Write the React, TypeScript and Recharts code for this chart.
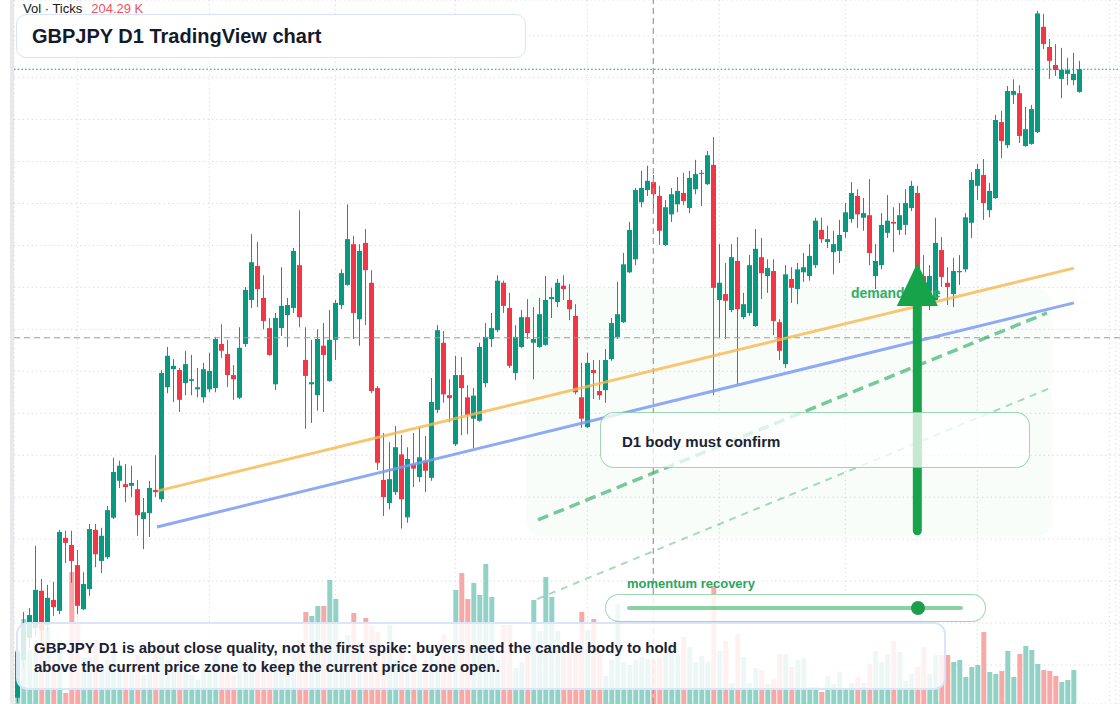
import React from 'react';
import {
  ComposedChart, Bar, Cell, XAxis, YAxis, CartesianGrid,
  ReferenceLine, ReferenceArea, ReferenceDot,
} from 'recharts';

const W = 1120;
const H = 704;

const UP = '#089981';
const DOWN = '#f23645';
const UP_VOL = '#92d2c6';
const DOWN_VOL = '#f7a9a8';
const GREEN = '#16a34a';
const GRID = '#d4d7dd';

// GBPJPY daily candles, oldest first
const opens = [
  179.22, 180.12, 180.65, 180.88, 181.77, 180.95, 181.55, 181.29, 183.03, 182.86,
  182.38, 181.33, 181.81, 183.22, 182.48, 182.57, 183.51, 184.39, 184.31, 184.27,
  184.19, 183.48, 183.62, 184.17, 183.95, 186.62, 187.05, 187.03, 186.72, 186.77,
  186.57, 186.38, 186.57, 186.60, 187.65, 187.41, 186.91, 186.37, 187.65, 188.70,
  189.51, 188.75, 188.03, 186.69, 188.03, 188.34, 188.51, 189.53, 187.27, 186.69,
  186.43, 187.61, 186.77, 187.75, 188.58, 189.06, 190.03, 188.24, 190.06, 189.11,
  186.60, 184.41, 183.86, 184.12, 185.02, 183.52, 184.79, 184.48, 184.87, 184.46,
  186.08, 187.68, 186.43, 185.26, 186.91, 186.38, 185.87, 185.82, 186.72, 187.77,
  187.98, 189.11, 188.51, 186.96, 187.58, 188.29, 187.68, 187.58, 187.63, 188.72,
  188.65, 189.04, 188.70, 188.32, 186.38, 185.67, 187.03, 186.53, 186.55, 187.29,
  187.82, 188.17, 189.36, 189.67, 191.03, 191.32, 191.51, 191.18, 190.01, 190.74,
  190.98, 191.25, 190.89, 191.34, 191.72, 191.46, 191.92, 188.70, 188.84, 188.46,
  189.63, 188.29, 188.39, 188.08, 189.72, 189.27, 189.39, 188.17, 187.17, 189.20,
  188.96, 189.36, 189.27, 189.53, 190.37, 190.08, 189.84, 189.87, 190.32, 190.63,
  191.18, 190.66, 190.72, 189.27, 189.53, 190.30, 190.56, 190.37, 190.49, 190.89,
  191.25, 189.27, 188.91, 188.70, 189.89, 189.11, 188.84, 189.36, 189.43, 190.54,
  191.42, 191.68, 190.84, 191.13, 192.94, 192.39, 193.59, 193.63, 192.37, 192.42,
  192.70, 195.21, 194.73, 194.30, 193.97, 194.09, 193.94, 193.66,
];
const highs = [
  180.60, 181.26, 181.36, 182.84, 182.05, 181.91, 181.98, 183.22, 183.20, 183.20,
  182.74, 182.21, 183.36, 183.36, 183.27, 183.79, 184.94, 184.87, 184.79, 184.75,
  184.41, 183.98, 184.39, 185.00, 187.03, 187.58, 187.29, 187.08, 187.49, 187.39,
  187.08, 187.20, 187.44, 187.82, 188.12, 187.75, 187.15, 188.05, 189.01, 190.27,
  190.08, 189.29, 188.27, 188.39, 189.48, 188.75, 189.94, 190.84, 188.05, 187.75,
  188.00, 188.15, 188.46, 188.70, 189.43, 190.98, 190.23, 190.03, 190.39, 189.41,
  186.65, 185.53, 185.31, 185.70, 185.48, 185.19, 185.53, 185.67, 185.46, 186.84,
  188.10, 187.96, 186.81, 187.37, 187.34, 186.67, 186.60, 187.68, 188.15, 188.39,
  189.29, 189.16, 188.87, 188.10, 188.46, 188.72, 188.53, 188.75, 189.27, 188.99,
  189.20, 189.29, 189.08, 188.60, 187.20, 187.44, 187.27, 187.27, 187.53, 188.27,
  189.13, 189.82, 190.56, 191.37, 191.78, 191.90, 191.68, 191.42, 191.08, 191.37,
  191.63, 191.73, 191.78, 192.04, 191.80, 192.25, 192.58, 190.03, 189.58, 190.03,
  190.20, 188.87, 189.77, 190.39, 190.18, 189.67, 189.67, 188.24, 189.53, 189.48,
  189.58, 189.82, 190.03, 190.66, 190.66, 190.47, 190.35, 190.61, 191.01, 191.51,
  191.34, 191.13, 191.58, 190.03, 190.77, 191.20, 190.91, 191.01, 191.34, 191.54,
  191.42, 189.77, 189.53, 190.66, 190.20, 189.48, 189.70, 189.77, 190.77, 191.75,
  191.94, 192.06, 191.49, 193.11, 193.21, 193.80, 193.96, 193.82, 193.30, 193.35,
  195.59, 195.52, 194.92, 194.80, 194.71, 194.47, 194.59, 194.40,
];
const lows = [
  179.10, 179.93, 180.41, 180.69, 180.55, 180.78, 181.17, 181.21, 182.43, 181.96,
  181.21, 181.31, 181.65, 182.33, 182.19, 182.53, 183.48, 184.22, 183.88, 184.00,
  183.08, 182.76, 183.05, 184.00, 183.88, 186.48, 186.27, 186.03, 186.43, 186.43,
  186.38, 186.25, 186.50, 186.50, 187.32, 186.62, 186.32, 186.34, 187.58, 188.51,
  188.53, 188.00, 187.37, 186.55, 187.84, 187.58, 188.39, 188.05, 185.63, 185.77,
  186.06, 186.03, 186.75, 187.27, 188.48, 189.04, 187.77, 187.61, 188.10, 186.48,
  184.65, 183.55, 183.71, 184.05, 183.25, 183.39, 184.24, 184.36, 184.12, 184.39,
  186.01, 186.25, 185.79, 185.22, 185.48, 185.50, 185.17, 185.80, 186.62, 187.58,
  187.93, 188.39, 187.08, 186.79, 187.56, 187.77, 186.81, 187.56, 187.61, 188.27,
  188.53, 188.70, 188.22, 186.45, 185.65, 185.65, 186.34, 186.32, 186.25, 187.25,
  187.77, 188.15, 189.34, 189.53, 190.91, 191.18, 190.82, 190.01, 189.99, 190.56,
  190.79, 190.96, 190.77, 191.22, 190.94, 191.44, 186.43, 187.79, 187.77, 188.41,
  186.69, 188.24, 188.32, 188.06, 188.72, 188.87, 187.86, 187.27, 187.08, 188.63,
  188.60, 189.13, 189.16, 189.46, 190.06, 189.94, 189.31, 189.58, 190.18, 190.54,
  190.42, 190.35, 189.53, 188.96, 189.43, 190.18, 189.84, 190.25, 190.25, 190.82,
  189.18, 188.70, 188.46, 188.68, 189.01, 188.58, 188.53, 189.06, 189.36, 190.18,
  191.08, 190.61, 190.67, 191.11, 192.08, 192.32, 193.37, 192.44, 192.35, 192.40,
  192.68, 194.68, 193.97, 194.04, 193.51, 193.82, 193.82, 193.64,
];
const closes = [
  180.31, 180.95, 181.19, 181.79, 180.83, 181.60, 181.38, 183.17, 182.91, 182.48,
  181.41, 181.93, 183.24, 182.64, 183.08, 183.69, 184.60, 184.75, 184.24, 184.34,
  183.57, 183.64, 184.22, 184.12, 186.96, 187.37, 187.13, 186.32, 187.17, 186.81,
  186.62, 187.05, 187.01, 187.77, 187.49, 186.91, 186.81, 187.56, 188.94, 189.60,
  188.96, 188.20, 187.39, 188.27, 188.56, 188.58, 189.87, 188.29, 186.89, 186.74,
  187.77, 187.39, 187.75, 188.63, 189.34, 190.15, 188.39, 189.87, 189.41, 186.53,
  184.82, 184.00, 184.43, 185.19, 183.95, 184.91, 184.68, 184.95, 184.63, 186.27,
  187.98, 186.45, 186.36, 186.91, 186.60, 185.96, 186.42, 187.58, 187.82, 188.03,
  189.16, 188.56, 187.13, 187.82, 188.29, 187.91, 187.77, 188.36, 188.70, 188.77,
  189.11, 188.96, 188.48, 186.50, 185.87, 187.20, 186.96, 186.43, 187.27, 188.15,
  188.36, 189.55, 190.37, 191.32, 191.37, 191.54, 191.22, 190.35, 190.91, 191.22,
  191.30, 191.06, 191.61, 191.70, 191.73, 192.15, 188.99, 189.11, 188.68, 189.72,
  188.48, 188.60, 189.53, 189.92, 189.34, 189.46, 188.20, 187.49, 189.31, 188.99,
  189.43, 189.48, 189.75, 190.59, 190.15, 190.15, 190.03, 190.25, 190.79, 191.25,
  190.74, 190.77, 189.82, 189.63, 190.49, 190.59, 190.52, 190.72, 191.01, 191.42,
  189.36, 188.89, 189.27, 190.06, 189.25, 189.01, 189.39, 189.39, 190.67, 191.56,
  191.82, 191.01, 191.30, 192.99, 192.49, 193.68, 193.68, 192.61, 192.77, 193.25,
  195.53, 194.80, 194.40, 194.18, 194.19, 194.18, 194.09, 194.20,
];
// tick volume, thousands
const volumes = [
  324, 510, 324, 384, 486, 462, 264, 384, 66, 792,
  486, 276, 282, 384, 204, 264, 354, 234, 192, 216,
  294, 174, 252, 324, 384, 264, 216, 294, 204, 174,
  144, 234, 216, 294, 204, 252, 174, 264, 294, 324,
  216, 264, 192, 276, 240, 204, 324, 384, 552, 528,
  588, 588, 744, 630, 384, 414, 546, 354, 516, 468,
  432, 324, 474, 264, 354, 234, 294, 204, 264, 324,
  264, 414, 288, 684, 786, 630, 726, 654, 840, 642,
  264, 474, 474, 216, 252, 324, 624, 438, 762, 642,
  438, 306, 306, 336, 552, 444, 510, 324, 168, 264,
  600, 252, 234, 264, 282, 270, 264, 276, 342, 366,
  294, 402, 342, 252, 288, 252, 708, 318, 378, 126,
  420, 282, 126, 216, 204, 120, 150, 300, 300, 222,
  264, 276, 102, 102, 72, 168, 120, 192, 96, 126,
  162, 126, 240, 318, 252, 300, 378, 312, 138, 180,
  222, 342, 180, 294, 294, 294, 252, 264, 162, 222,
  234, 432, 192, 180, 198, 318, 162, 300, 348, 324,
  240, 204, 198, 168, 132, 144, 204.29, 0,
];

// candle index of the first session of each month
const monthStarts = [10, 32, 53, 73, 95, 117, 138, 160, 182];
const priceGrid = [180, 181, 182, 183, 184, 185, 186, 187, 188, 189, 190, 191, 192, 193, 194, 195];

const X_DOMAIN: [number, number] = [-0.55, 183.78];
const PRICE_DOMAIN: [number, number] = [179.07, 195.85];
const VOL_DOMAIN: [number, number] = [0, 4224];

const rows = opens.map((o, i) => ({
  i,
  open: o,
  high: highs[i],
  low: lows[i],
  close: closes[i],
  vol: volumes[i],
}));

const lastClose = closes[closes.length - 1];

function Candle(props: any) {
  const { x, y, width, height, payload } = props;
  if (!payload || height == null) return null;
  const { open, close, high, low } = payload;
  const top = Math.min(y, y + height);
  const span = Math.abs(height);
  const k = high > low ? span / (high - low) : 0;
  const left = Math.round(x);
  const mid = left + width / 2;
  const bodyTop = top + (high - Math.max(open, close)) * k;
  const bodyH = Math.max(1, Math.abs(close - open) * k);
  const color = close >= open ? UP : DOWN;
  return (
    <g>
      <line x1={mid} x2={mid} y1={top} y2={top + span} stroke={color} strokeWidth={1} />
      <rect x={left} y={bodyTop} width={width} height={bodyH} fill={color} />
    </g>
  );
}

const ZoneShape = (p: any) => (
  <rect x={p.x} y={p.y} width={p.width} height={p.height} rx={16} fill="#22c55e" fillOpacity={0.03} />
);

const DemandLabel = (p: any) => (
  <text x={p.cx} y={p.cy} fill="#33ad63" fontSize={14} fontWeight={700}
    fontFamily="'Liberation Sans', Arial, sans-serif">demand zone</text>
);

const ArrowHead = (p: any) => (
  <path d={`M${p.cx},${p.cy} L${p.cx - 20.5},${p.cy + 43} L${p.cx + 20.5},${p.cy + 43} Z`} fill={GREEN} />
);

const FONT = "'Liberation Sans', Arial, Helvetica, sans-serif";

export default function App() {
  return (
    <div style={{ position: 'absolute', left: 0, top: 0, width: W, height: H, background: '#fff', overflow: 'hidden', fontFamily: FONT }}>
      <div style={{ position: 'absolute', left: 10, top: 0, width: 4, height: H, background: '#e9e9eb' }} />
      <div style={{ position: 'absolute', left: 0, top: 0 }}>
        <ComposedChart width={W} height={H} data={rows} margin={{ top: 0, right: 0, bottom: 0, left: 14 }}>
          <XAxis xAxisId="px" type="number" dataKey="i" domain={X_DOMAIN} ticks={monthStarts} allowDataOverflow hide />
          <XAxis xAxisId="vol" type="number" dataKey="i" domain={X_DOMAIN} allowDataOverflow hide />
          <YAxis yAxisId="px" type="number" domain={PRICE_DOMAIN} ticks={priceGrid} allowDataOverflow hide />
          <YAxis yAxisId="vol" type="number" domain={VOL_DOMAIN} allowDataOverflow hide />
          <CartesianGrid xAxisId="px" yAxisId="px" stroke={GRID} strokeDasharray="1.2 3.2" />
          <ReferenceLine xAxisId="px" yAxisId="px" x={183.1} stroke={GRID} strokeDasharray="1.2 3.2" />
          <ReferenceArea xAxisId="px" yAxisId="px" x1={84.78} x2={172.45} y1={183.07} y2={188.99} shape={ZoneShape} />

          <Bar xAxisId="vol" yAxisId="vol" dataKey="vol" barSize={5} isAnimationActive={false}>
            {rows.map((r) => (
              <Cell key={r.i} fill={r.close >= r.open ? UP_VOL : DOWN_VOL} />
            ))}
          </Bar>
          <Bar xAxisId="px" yAxisId="px" dataKey={(d: any) => [d.low, d.high]} barSize={5}
            shape={Candle} isAnimationActive={false} />

          <ReferenceLine xAxisId="px" yAxisId="px" x={106} stroke="#9a9a9a" strokeWidth={1.2} strokeDasharray="6 4" />
          <ReferenceLine xAxisId="px" yAxisId="px" y={187.8} stroke="#9a9a9a" strokeWidth={1.2} strokeDasharray="6 4" />
          <ReferenceLine xAxisId="px" yAxisId="px" y={lastClose} stroke={UP} strokeWidth={1.2} strokeDasharray="1.5 2.2" />

          <ReferenceLine xAxisId="px" yAxisId="px" segment={[{ x: 23.45, y: 184.15 }, { x: 176.1, y: 189.46 }]}
            stroke="#f5b84e" strokeOpacity={0.8} strokeWidth={3} />
          <ReferenceLine xAxisId="px" yAxisId="px" segment={[{ x: 23.28, y: 183.29 }, { x: 176.1, y: 188.63 }]}
            stroke="#7b9bf2" strokeOpacity={0.85} strokeWidth={3} />
          <ReferenceLine xAxisId="px" yAxisId="px" segment={[{ x: 86.78, y: 183.46 }, { x: 171.6, y: 188.39 }]}
            stroke="#22a55a" strokeOpacity={0.6} strokeWidth={3.5} strokeDasharray="11 6" />
          <ReferenceLine xAxisId="px" yAxisId="px" segment={[{ x: 86.6, y: 181.57 }, { x: 171.8, y: 186.58 }]}
            stroke="#22a55a" strokeOpacity={0.4} strokeWidth={2} strokeDasharray="7 6" />

          <ReferenceDot xAxisId="px" yAxisId="px" x={138.95} y={188.74} shape={DemandLabel} />
          <ReferenceLine xAxisId="px" yAxisId="px" segment={[{ x: 150, y: 183.2 }, { x: 150, y: 188.75 }]}
            stroke={GREEN} strokeWidth={9} strokeLinecap="round" />
          <ReferenceDot xAxisId="px" yAxisId="px" x={150} y={189.58} shape={ArrowHead} />
        </ComposedChart>
      </div>

      <div style={{ position: 'absolute', left: 23, top: 1, fontSize: 13, lineHeight: '16px', color: '#131722', whiteSpace: 'nowrap' }}>
        Vol · Ticks<span style={{ color: '#f0535f', marginLeft: 9 }}>204.29 K</span>
      </div>

      <div style={{ position: 'absolute', left: 16, top: 14, width: 510, height: 43.5, boxSizing: 'border-box', border: '1.5px solid #d7e4f7', borderRadius: 10, background: 'rgba(255,255,255,0.94)' }} />
      <div style={{ position: 'absolute', left: 32, top: 24.4, fontSize: 20, lineHeight: '24px', fontWeight: 700, color: '#131a2b', whiteSpace: 'nowrap' }}>
        GBPJPY D1 TradingView chart
      </div>

      <div style={{ position: 'absolute', left: 600, top: 412, width: 430, height: 56, boxSizing: 'border-box', border: '1.5px solid rgba(22,163,74,0.42)', borderRadius: 14, background: 'rgba(255,255,255,0.75)' }} />
      <div style={{ position: 'absolute', left: 622, top: 432, fontSize: 15, lineHeight: '19px', fontWeight: 700, color: '#1b2232', whiteSpace: 'nowrap' }}>
        D1 body must confirm
      </div>

      <div style={{ position: 'absolute', left: 627, top: 575.5, fontSize: 13, lineHeight: '16px', fontWeight: 700, color: '#2aa65c', whiteSpace: 'nowrap' }}>
        momentum recovery
      </div>
      <div style={{ position: 'absolute', left: 605, top: 594, width: 381, height: 28, boxSizing: 'border-box', border: '1.5px solid rgba(22,163,74,0.42)', borderRadius: 14, background: 'rgba(255,255,255,0.85)' }} />
      <div style={{ position: 'absolute', left: 627, top: 606, width: 336, height: 4, borderRadius: 2, background: 'rgba(22,163,74,0.5)' }} />
      <div style={{ position: 'absolute', left: 911, top: 601, width: 14, height: 14, borderRadius: 7, background: '#1c9e4c' }} />

      <div style={{ position: 'absolute', left: 16, top: 622, width: 930, height: 67.5, boxSizing: 'border-box', border: '2px solid #d9e6fa', borderRadius: 12, background: 'rgba(255,255,255,0.84)' }} />
      <div style={{ position: 'absolute', left: 34, top: 638.4, fontSize: 15, lineHeight: '19px', fontWeight: 700, color: '#1b2232', whiteSpace: 'nowrap' }}>
        <div>GBPJPY D1 is about close quality, not the first spike: buyers need the candle body to hold</div>
        <div>above the current price zone to keep the current price zone open.</div>
      </div>
    </div>
  );
}
